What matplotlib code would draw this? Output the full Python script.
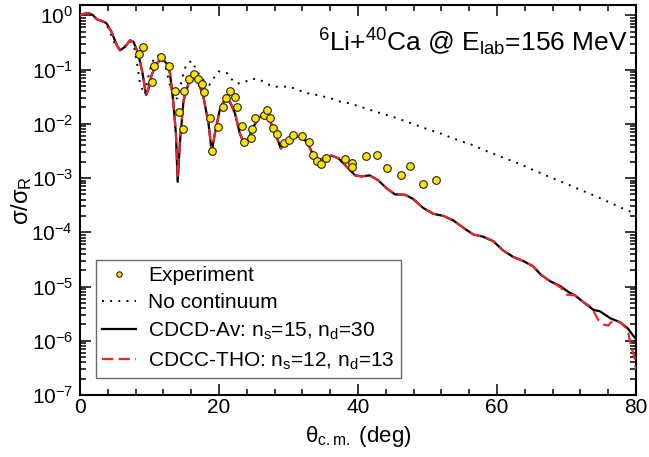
import matplotlib
matplotlib.use("Agg")
import matplotlib.pyplot as plt
from matplotlib.ticker import MultipleLocator, LogLocator, FixedLocator, NullFormatter

plt.rcParams['font.family'] = ['Liberation Sans', 'DejaVu Sans']
plt.rcParams['mathtext.fontset'] = 'custom'
plt.rcParams['mathtext.rm'] = 'Liberation Sans'
plt.rcParams['mathtext.it'] = 'Liberation Sans'
plt.rcParams['mathtext.bf'] = 'Liberation Sans:bold'

# experiment (deg, sigma/sigma_R)
exp_theta = [8.5, 9.0, 10.3, 10.6, 11.65, 12.8, 13.7, 14.25, 14.85, 15.0,
             15.7, 16.45, 16.95, 17.5, 17.8, 18.7, 18.95, 19.9, 20.6, 21.0,
             21.55, 22.25, 22.65, 23.3, 23.6, 24.6, 24.7, 25.25, 26.45, 26.95,
             27.4, 27.75, 28.4, 29.3, 30.0, 30.7, 31.9, 33.0, 33.5, 34.05,
             34.65, 35.4, 38.15, 39.1, 39.15, 41.2, 42.7, 44.15, 46.25, 47.5,
             49.4, 51.25]
exp_sigma = [0.195, 0.257, 0.060, 0.117, 0.174, 0.117, 0.040, 0.0166, 0.0079, 0.040,
             0.066, 0.083, 0.068, 0.055, 0.039, 0.0126, 0.0032, 0.0087, 0.0204, 0.0295,
             0.040, 0.0316, 0.0204, 0.0093, 0.0047, 0.0054, 0.0079, 0.0126, 0.0145, 0.0178,
             0.0126, 0.0083, 0.0066, 0.0044, 0.0050, 0.0063, 0.0060, 0.0046, 0.0027, 0.0021,
             0.0018, 0.0023, 0.0022, 0.0019, 0.0016, 0.0025, 0.0027, 0.0015, 0.00115, 0.00166,
             0.00079, 0.00091]

# no continuum
nc_theta = [0.0, 0.6, 1.2, 1.9, 2.4, 3.1, 3.8, 4.4, 5.1, 5.8,
            6.5, 7.2, 7.8, 8.25, 8.6, 9.0, 9.35, 9.8, 10.3, 10.9,
            11.65, 12.3, 12.9, 13.7, 14.05, 14.4, 14.9, 15.3, 16.1, 16.6,
            17.5, 18.6, 19.3, 20.0, 21.1, 21.7, 22.6, 23.7, 24.7, 25.9,
            26.9, 28.0, 29.2, 30.4, 31.4, 32.5, 33.7, 34.9, 36.0, 37.2,
            38.4, 40.7, 42.9, 45.2, 47.4, 49.6, 51.9, 54.2, 56.4, 58.6,
            60.8, 63.1, 65.2, 67.4, 69.7, 71.8, 74.1, 76.3, 78.5, 80.0]
nc_sigma = [1.0, 1.07, 1.10, 1.0, 0.85, 0.79, 0.69, 0.46, 0.28, 0.23,
            0.275, 0.34, 0.25, 0.12, 0.059, 0.042, 0.035, 0.071, 0.129, 0.18,
            0.178, 0.112, 0.055, 0.0295, 0.0295, 0.048, 0.085, 0.126, 0.145, 0.107,
            0.068, 0.052, 0.071, 0.093, 0.087, 0.068, 0.055, 0.059, 0.068, 0.065,
            0.054, 0.048, 0.049, 0.047, 0.042, 0.037, 0.035, 0.032, 0.030, 0.026,
            0.0245, 0.020, 0.0162, 0.0132, 0.0105, 8.3e-3, 6.6e-3, 5.1e-3, 4.1e-3, 3.1e-3,
            2.4e-3, 1.86e-3, 1.41e-3, 1.07e-3, 8.1e-4, 6.2e-4, 4.7e-4, 3.5e-4, 2.6e-4, 2.2e-4]

# CDCD-Av
av_theta = [0.0, 0.6, 1.2, 1.9, 2.4, 3.1, 3.8, 4.55, 5.3, 5.75,
            6.5, 7.2, 7.7, 8.4, 9.0, 9.5, 9.8, 10.3, 11.0, 11.75,
            12.5, 12.95, 13.4, 13.8, 14.05, 14.4, 14.9, 15.6, 16.3, 17.0,
            17.7, 18.5, 18.95, 19.4, 20.1, 20.9, 21.6, 22.3, 23.0, 23.5,
            24.2, 24.9, 25.9, 26.5, 27.3, 28.1, 28.9, 29.7, 30.7, 31.65,
            32.6, 33.5, 34.3, 35.25, 36.2, 37.2, 38.4, 39.6, 40.5, 41.7,
            42.9, 44.1, 45.3, 46.8, 47.95, 49.4, 50.8, 52.3, 53.7, 55.2,
            56.6, 58.0, 59.5, 60.9, 62.35, 63.8, 65.2, 66.3, 67.6, 69.1,
            70.3, 71.2, 72.4, 73.9, 74.8, 76.3, 77.7, 78.8, 79.5, 80.0]
av_sigma = [1.0, 1.07, 1.10, 1.0, 0.85, 0.79, 0.72, 0.49, 0.28, 0.226,
            0.263, 0.347, 0.324, 0.195, 0.085, 0.034, 0.042, 0.079, 0.129, 0.158,
            0.129, 0.085, 0.027, 6.6e-3, 8.5e-4, 5.0e-3, 0.027, 0.055, 0.072, 0.059,
            0.034, 0.010, 3.0e-3, 6.6e-3, 0.0178, 0.0295, 0.025, 0.0155, 6.6e-3, 4.7e-3,
            5.0e-3, 8.7e-3, 0.0135, 0.0148, 0.0117, 6.6e-3, 3.5e-3, 4.7e-3, 5.75e-3, 5.9e-3,
            4.7e-3, 2.8e-3, 2.2e-3, 2.3e-3, 2.6e-3, 2.3e-3, 1.6e-3, 1.12e-3, 1.07e-3, 1.12e-3,
            9.1e-4, 6.5e-4, 5.0e-4, 4.9e-4, 4.1e-4, 2.8e-4, 2.2e-4, 2.0e-4, 1.66e-4, 1.2e-4,
            9.1e-5, 8.3e-5, 6.8e-5, 4.6e-5, 3.5e-5, 2.95e-5, 2.35e-5, 1.66e-5, 1.26e-5, 1.02e-5,
            7.9e-6, 6.9e-6, 5.2e-6, 3.7e-6, 3.5e-6, 2.6e-6, 2.2e-6, 1.7e-6, 1.29e-6, 1.07e-6]

# CDCC-THO
tho_theta = [0.0, 0.6, 1.2, 1.9, 2.4, 3.1, 3.8, 4.55, 5.3, 5.75,
             6.5, 7.2, 7.7, 8.4, 9.0, 9.5, 9.8, 10.3, 11.0, 11.75,
             12.5, 12.95, 13.4, 13.8, 14.05, 14.4, 14.9, 15.6, 16.3, 17.0,
             17.7, 18.5, 18.95, 19.4, 20.1, 20.9, 21.6, 22.3, 23.0, 23.5,
             24.2, 24.9, 25.9, 26.5, 27.3, 28.1, 28.9, 29.7, 30.7, 31.65,
             32.6, 33.5, 34.3, 35.25, 36.2, 37.2, 38.4, 39.6, 40.5, 41.7,
             42.9, 44.1, 45.3, 46.8, 47.95, 49.4, 50.8, 52.3, 53.7, 55.2,
             56.6, 58.0, 59.5, 60.9, 62.35, 63.8, 65.2, 66.3, 67.6, 68.6,
             69.3, 70.0, 71.2, 72.4, 73.4, 73.9, 74.6, 75.3, 76.0, 76.5,
             77.0, 77.9, 78.8, 79.1, 79.4, 79.8, 80.0]
tho_sigma = [1.0, 1.07, 1.10, 1.0, 0.85, 0.79, 0.72, 0.49, 0.28, 0.226,
             0.263, 0.347, 0.324, 0.195, 0.085, 0.034, 0.042, 0.079, 0.129, 0.158,
             0.129, 0.085, 0.027, 6.8e-3, 1.1e-3, 5.2e-3, 0.027, 0.055, 0.072, 0.059,
             0.034, 0.010, 3.0e-3, 6.6e-3, 0.0178, 0.0295, 0.025, 0.0155, 6.6e-3, 4.7e-3,
             5.0e-3, 8.7e-3, 0.0135, 0.0148, 0.0117, 6.6e-3, 3.5e-3, 4.7e-3, 5.75e-3, 5.9e-3,
             4.7e-3, 2.8e-3, 2.2e-3, 2.3e-3, 2.6e-3, 2.3e-3, 1.6e-3, 1.12e-3, 1.07e-3, 1.12e-3,
             9.1e-4, 6.5e-4, 5.0e-4, 4.9e-4, 4.1e-4, 2.8e-4, 2.2e-4, 2.0e-4, 1.66e-4, 1.2e-4,
             9.1e-5, 8.3e-5, 6.8e-5, 4.6e-5, 3.5e-5, 2.95e-5, 2.35e-5, 1.66e-5, 1.26e-5, 1.07e-5,
             9.3e-6, 7.1e-6, 6.9e-6, 5.2e-6, 4.3e-6, 3.5e-6, 2.4e-6, 2.0e-6, 1.9e-6, 2.24e-6,
             2.4e-6, 2.1e-6, 1.6e-6, 1.02e-6, 7.2e-7, 4.8e-7, 2.9e-7]

y_major = [1e-7, 1e-6, 1e-5, 1e-4, 1e-3, 1e-2, 1e-1, 1e0]

fig = plt.figure(figsize=(6.49, 4.57), dpi=100)
ax = fig.add_axes([80 / 649, 1 - 395 / 457, 556 / 649, 390 / 457])

ax.plot(nc_theta, nc_sigma, color='black', lw=1.4, linestyle=(0, (1, 3.2)),
        label='No continuum', zorder=2)
ax.plot(av_theta, av_sigma, color='black', lw=1.6,
        label='CDCD-Av: n$_{s}$=15, n$_{d}$=30', zorder=3)
ax.plot(tho_theta, tho_sigma, color='#e8262b', lw=1.6, linestyle=(0, (5, 2.5)),
        label='CDCC-THO: n$_{s}$=12, n$_{d}$=13', zorder=4)
ax.plot(exp_theta, exp_sigma, 'o', color='#ffe400', mec='#222222', mew=0.8,
        ms=5.5, label='Experiment', zorder=5)

ax.set_yscale('log')
ax.set_xlim(0, 80)
ax.set_ylim(1e-7, 1.55)

ax.xaxis.set_major_locator(MultipleLocator(20))
ax.xaxis.set_minor_locator(MultipleLocator(4))
ax.yaxis.set_major_locator(FixedLocator(y_major))
ax.yaxis.set_minor_locator(LogLocator(base=10, subs=range(2, 10), numticks=20))
ax.yaxis.set_minor_formatter(NullFormatter())

ax.tick_params(which='both', direction='in', top=True, right=True, width=1.1)
ax.tick_params(which='major', length=8, labelsize=15)
ax.tick_params(which='minor', length=4)
ax.tick_params(axis='x', pad=2)
ax.tick_params(axis='y', pad=5)
for s in ax.spines.values():
    s.set_linewidth(1.5)

ax.set_xlabel('θ$_{c.m.}$ (deg)', fontsize=16, labelpad=5)
ax.set_ylabel('σ/σ$_{R}$', fontsize=17)
ax.yaxis.set_label_coords(-0.083, 0.5)

ax.text(0.986, 0.905, '$^{6}$Li+$^{40}$Ca @ E$_{lab}$=156 MeV', transform=ax.transAxes,
        ha='right', va='center', fontsize=19)

handles, labels = ax.get_legend_handles_labels()
order = [3, 0, 1, 2]
leg = ax.legend([handles[i] for i in order], [labels[i] for i in order],
                loc='lower left', bbox_to_anchor=(0.029, 0.044), borderaxespad=0,
                fontsize=15, frameon=True, fancybox=False, edgecolor='#444444',
                handlelength=1.6, handletextpad=0.6, labelspacing=0.4,
                borderpad=0.3, markerscale=0.7)
leg.get_frame().set_linewidth(1.0)

fig.savefig('out.png', dpi=100)
